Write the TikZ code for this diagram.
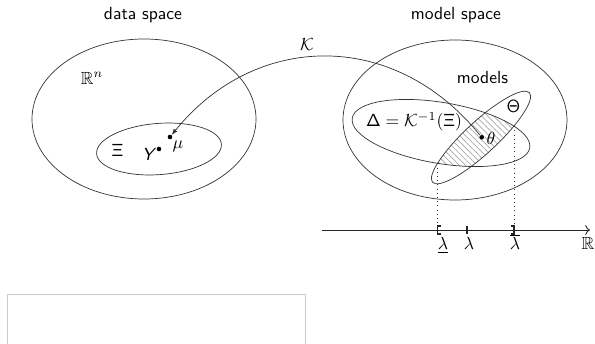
\documentclass[tikz,border=0pt]{standalone}
\usepackage{amssymb}
\usetikzlibrary{arrows.meta,patterns.meta,intersections}
\renewcommand{\familydefault}{\sfdefault}
\begin{document}
\begin{tikzpicture}[x=0.02cm, y=0.02cm,
    set/.style={draw=black!80, line width=0.4pt},
    dot/.style={circle, fill=black, inner sep=0pt, minimum size=2.6pt},
    arrow/.style={-{Latex[length=3.5pt, width=2.6pt]}, draw=black!80, line width=0.4pt},
    tickmark/.style={draw=black!85, line width=0.6pt},
  ]
  \useasboundingbox (0,0) rectangle (595,-344);
  % empty frame at the bottom
  \draw[black!20] (7,-344) -- (7,-294) -- (305,-294) -- (305,-344);

  \node (datalbl)  at (143,-15) {data space};
  \node (modellbl) at (456,-15) {model space};

  % data space
  \draw[set] (144,-119) ellipse [x radius=112, y radius=80];
  \draw[set, rotate around={4.4:(159,-149)}] (159,-149) ellipse [x radius=62.6, y radius=25.6];
  \node (rn)    at (92,-78)     {$\mathbb{R}^n$};
  \node (xi)    at (117.5,-150) {$\mathsf{\Xi}$};
  \node[dot] (ydot)  at (159,-149) {};
  \node[dot] (mudot) at (170,-137) {};
  \node (ylbl)  at (148,-154) {\itshape Y};
  \node (mulbl) at (178,-146) {$\mu$};

  % model space
  \draw[set] (455,-120) ellipse [x radius=112, y radius=80];
  \begin{scope}
    \clip[rotate around={-9.5:(441,-133)}] (441,-133) ellipse [x radius=90, y radius=30.5];
    \fill[pattern={Lines[angle=-45, distance=2.4pt, line width=0.4pt]}, pattern color=black!35,
      rotate around={42.8:(481,-137.5)}] (481,-137.5) ellipse [x radius=66, y radius=16];
  \end{scope}
  \draw[set, name path=delta, rotate around={-9.5:(441,-133)}] (441,-133) ellipse [x radius=90, y radius=30.5];
  \draw[set, name path=theta, rotate around={42.8:(481,-137.5)}] (481,-137.5) ellipse [x radius=66, y radius=16];
  \path[name intersections={of=delta and theta, name=v, sort by=delta}];

  \node (models) at (482.5,-78) {models};
  \node (dlbl)   at (414,-122)  {$\mathsf{\Delta}=\mathcal{K}^{-1}(\mathsf{\Xi})$};
  \node (thlbl)  at (513.5,-106) {$\mathsf{\Theta}$};
  \node[dot] (thetadot) at (481.7,-137.3) {};
  \node (thetalbl) at (491,-138.5) {$\theta$};

  % the map
  \draw[arrow] (thetadot) .. controls +(129:140) and +(51:135) .. (mudot);
  \node (klbl) at (307,-45) {$\mathcal{K}$};

  % real line
  \coordinate (axl) at (322,-230);
  \coordinate (axr) at (590,-230);
  \draw[->, black!85, line width=0.5pt] (axl) -- (axr);
  \coordinate (lo) at (v-3 |- axl);
  \coordinate (hi) at (v-1 |- axl);
  \coordinate (mid) at (467,-230);
  \draw[dotted, black!80] (v-3) -- (lo);
  \draw[dotted, black!80] (v-1) -- (hi);
  \draw[tickmark] ([shift={(3,4)}]lo) -- ++(-3,0) -- ++(0,-8) -- ++(3,0);
  \draw[tickmark] ([shift={(-3,4)}]hi) -- ++(3,0) -- ++(0,-8) -- ++(-3,0);
  \draw[tickmark] ([shift={(0,4)}]mid) -- ++(0,-8);
  \node[anchor=base] (lamlo)  at (443,-250) {$\underline{\lambda}$};
  \node[anchor=base] (lam)    at (469,-250) {$\lambda$};
  \node[anchor=base] (lamhi)  at (515,-250) {$\overline{\lambda}$};
  \node[anchor=base] (reals)  at (588,-250) {$\mathbb{R}$};
\end{tikzpicture}
\end{document}
